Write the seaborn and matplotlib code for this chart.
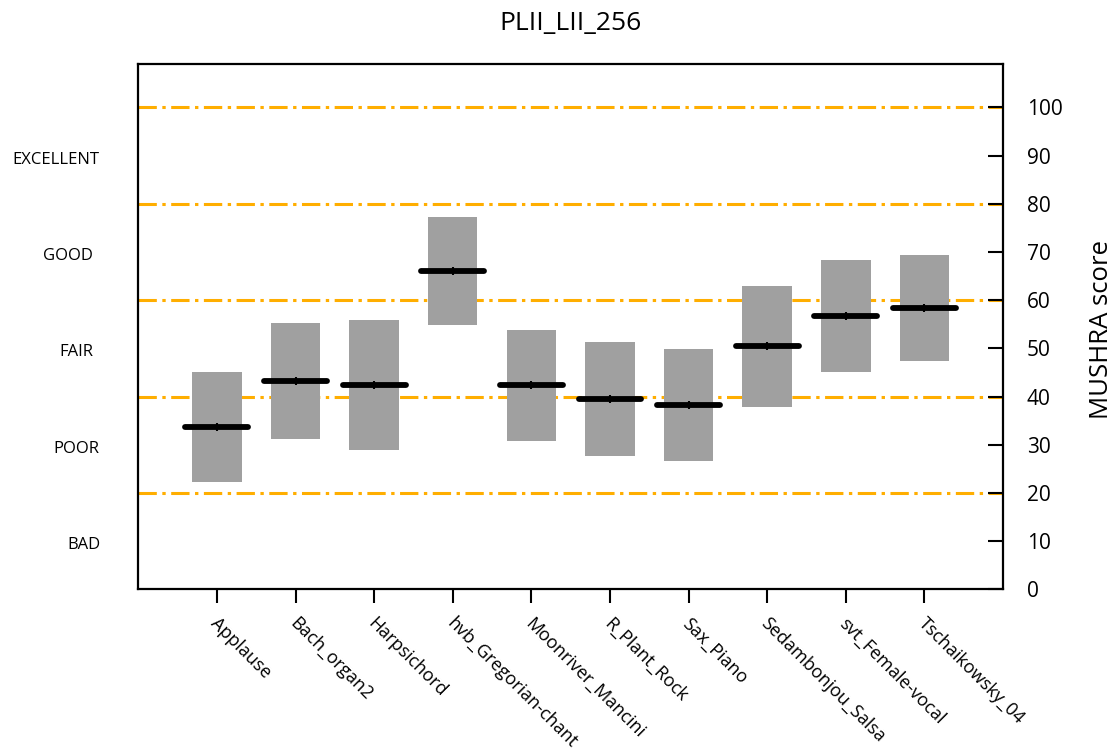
import numpy as np
import pandas as pd
import matplotlib
matplotlib.use("Agg")
import matplotlib.pyplot as plt
import matplotlib.transforms as mtransforms
import seaborn as sns

# ---- data ----
title = "PLII_LII_256"
items = ["Applause", "Bach_organ2", "Harpsichord", "hvb_Gregorian-chant",
         "Moonriver_Mancini", "R_Plant_Rock", "Sax_Piano", "Sedambonjou_Salsa",
         "svt_Female-vocal", "Tschaikowsky_04"]
means = [33.7, 43.2, 42.4, 66.0, 42.4, 39.6, 38.3, 50.5, 56.8, 58.4]
ci_low = [22.2, 31.3, 28.9, 54.8, 30.7, 27.7, 26.7, 37.9, 45.1, 47.4]
ci_high = [45.2, 55.2, 55.9, 77.2, 53.9, 51.4, 49.8, 62.9, 68.4, 69.3]
grade_labels = ["BAD", "POOR", "FAIR", "GOOD", "EXCELLENT"]
grade_centers = [10, 30, 50, 70, 90]
grade_bounds = [20, 40, 60, 80, 100]
yticks = list(range(0, 101, 10))

sns.set_theme(style="white")
plt.rcParams["font.family"] = ["Open Sans", "DejaVu Sans"]
plt.rcParams["text.color"] = "black"

W, H = 1118, 751
fig = plt.figure(figsize=(W / 100, H / 100), dpi=100)
ax = fig.add_axes([138.3 / W, 1 - 589.4 / H, (1003 - 138.3) / W, (589.4 - 64) / H])

# reference grade boundaries
for b in grade_bounds:
    ax.axhline(b, color="#FFAE00", lw=2.2, dashes=(6.0, 1.8, 1.1, 1.8), zorder=0.5)

# confidence boxes
df = pd.DataFrame({"item": items,
                   "span": np.array(ci_high) - np.array(ci_low),
                   "low": ci_low, "mean": means})
sns.barplot(data=df, x="item", y="span", bottom=df["low"].values, color="#A0A0A0",
            saturation=1, width=0.63, errorbar=None, linewidth=0, ax=ax, zorder=2)

# mean lines
xpos = np.arange(len(items))
ax.hlines(df["mean"], xpos - 0.40, xpos + 0.40, colors="black", linewidth=4.2,
          capstyle="round", zorder=4)
sns.scatterplot(x=xpos, y=df["mean"], marker="|", s=40, color="black",
                linewidth=1.5, ax=ax, zorder=5, legend=False)

ax.set_xlim(-1, 10)
ax.set_ylim(0, 109)

# axes styling
for sp in ax.spines.values():
    sp.set_visible(True)
    sp.set_color("black")
    sp.set_linewidth(1.6)

ax.yaxis.tick_right()
ax.yaxis.set_label_position("right")
ax.set_yticks(yticks)
ax.tick_params(axis="y", direction="in", length=11, width=1.5, pad=17,
               labelsize=15, right=True, left=False, colors="black")
ax.set_ylabel("MUSHRA score", fontsize=18.5, color="black")
ax.yaxis.set_label_coords(1.10, 0.494)

ax.set_xticks(xpos)
ax.set_xticklabels(items, rotation=-45, ha="left", va="top",
                   rotation_mode="anchor", fontsize=13)
ax.tick_params(axis="x", direction="out", length=10, width=1.5, pad=8,
               bottom=True, colors="black")
shift = mtransforms.ScaledTranslation(3 / 100, 0, fig.dpi_scale_trans)
for lab in ax.get_xticklabels():
    lab.set_transform(lab.get_transform() + shift)
ax.set_xlabel("")

# title
fig.text(570.5 / W, 1 - 24 / H, title, ha="center", va="center", fontsize=19)

# grade labels on the left
trans = mtransforms.blended_transform_factory(fig.transFigure, ax.transData)
trans = trans + mtransforms.ScaledTranslation(0, -4 / 100, fig.dpi_scale_trans)
grade_x = [83.5, 76, 76, 67.5, 56]
for lab, yc, gx in zip(grade_labels, grade_centers, grade_x):
    ax.text(gx / W, yc, lab, transform=trans, ha="center", va="center",
            fontsize=12, clip_on=False)

fig.savefig("out.png", dpi=100)
